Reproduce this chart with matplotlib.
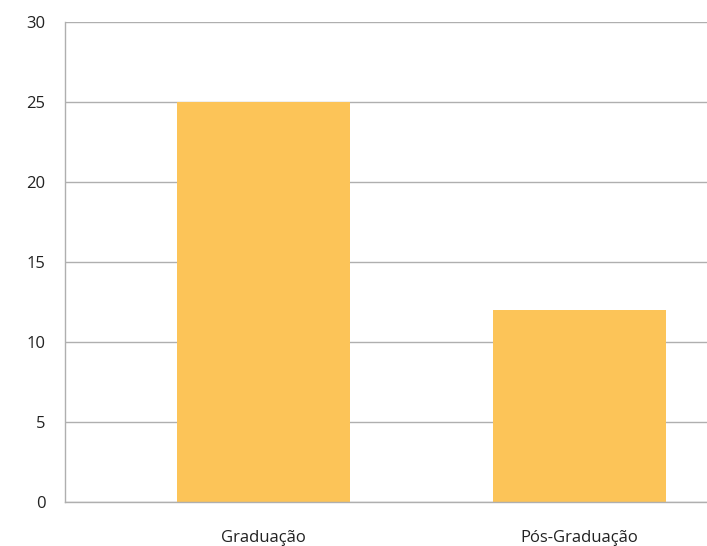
import matplotlib.pyplot as plt

categories = ["Graduação", "Pós-Graduação"]
values = [25, 12]
y_ticks = [0, 5, 10, 15, 20, 25, 30]

BAR_COLOR = "#FCC458"
GRID_COLOR = "#AFAFAF"

plt.rcParams["font.family"] = ["Open Sans", "DejaVu Sans"]

fig = plt.figure(figsize=(7.07, 5.46), dpi=100)
ax = fig.add_axes([65 / 707, 44 / 546, 1 - 65 / 707, 480 / 546])

x = list(range(len(categories)))
ax.bar(x, values, width=0.547, color=BAR_COLOR, zorder=3)

ax.set_xlim(-0.628, 1.403)
ax.set_ylim(0, 30)
ax.set_yticks(y_ticks)
ax.set_xticks(x)
ax.set_xticklabels(categories)

ax.grid(axis="y", color=GRID_COLOR, linewidth=1, zorder=0)
ax.set_axisbelow(True)
for side in ("top", "right"):
    ax.spines[side].set_visible(False)
for side in ("left", "bottom"):
    ax.spines[side].set_color(GRID_COLOR)
    ax.spines[side].set_linewidth(1)
ax.spines["bottom"].set_zorder(4)

ax.tick_params(axis="both", length=0, labelsize=12, colors="#222222")
ax.tick_params(axis="y", pad=14)
ax.tick_params(axis="x", pad=20)

fig.savefig("out.png", dpi=100)
